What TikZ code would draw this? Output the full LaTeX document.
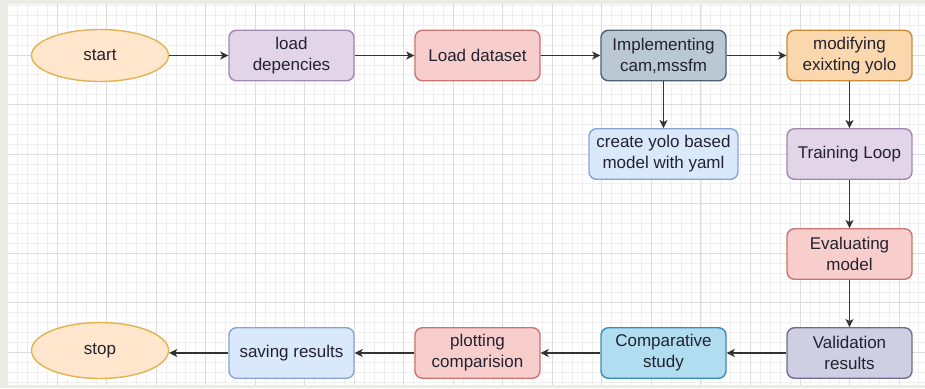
\documentclass[tikz,border=0pt]{standalone}
\usepackage{fontspec}
\setmainfont{Liberation Sans}
\usetikzlibrary{arrows.meta,shapes.geometric}
\definecolor{bordergray}{HTML}{ECECE7}
\definecolor{minorgrid}{HTML}{EFEFEF}
\definecolor{majorgrid}{HTML}{DDDDDD}
\definecolor{txt}{HTML}{222230}
\definecolor{linecol}{HTML}{333333}
\definecolor{ofill}{HTML}{FFE6CC}\definecolor{ostroke}{HTML}{E0B450}
\definecolor{pfill}{HTML}{E1D5E7}\definecolor{pstroke}{HTML}{A287B2}
\definecolor{rfill}{HTML}{F8CECC}\definecolor{rstroke}{HTML}{C8746F}
\definecolor{gfill}{HTML}{BAC8D3}\definecolor{gstroke}{HTML}{4A6072}
\definecolor{afill}{HTML}{FAD7AC}\definecolor{astroke}{HTML}{C98A3A}
\definecolor{bfill}{HTML}{DAE8FC}\definecolor{bstroke}{HTML}{87A5D0}
\definecolor{vfill}{HTML}{D0CEE2}\definecolor{vstroke}{HTML}{6E6A92}
\definecolor{cfill}{HTML}{B1DDF0}\definecolor{cstroke}{HTML}{3A8DB2}
\begin{document}
\begin{tikzpicture}[x=1pt,y=-1pt,
  every node/.style={font=\fontsize{17}{21}\selectfont, text=txt, align=center},
  boxnode/.style={draw, rectangle, rounded corners=7.5pt, line width=1.4pt,
    minimum width=125pt, minimum height=50.5pt, inner sep=2pt},
  ovalnode/.style={draw, ellipse, line width=1.4pt, minimum width=137pt,
    minimum height=52pt, inner sep=0pt, fill=ofill, draw=ostroke},
  flow/.style={draw=linecol, line width=1.4pt,
    -{Stealth[length=8pt,width=8pt,inset=2pt]}}
]
\useasboundingbox (0,0) rectangle (925,388);
\fill[bordergray] (0,0) rectangle (925,388);
\fill[white] (7.5,3.5) rectangle (925,384.5);
% minor grid
\foreach \k in {0,...,92} {
  \pgfmathsetmacro\xx{7.5+\k*9.906}
  \draw[minorgrid, line width=0.8pt] (\xx,3.5) -- (\xx,384.5);
}
\foreach \k in {0,...,38} {
  \pgfmathsetmacro\yy{5.5+\k*9.906}
  \draw[minorgrid, line width=0.8pt] (7.5,\yy) -- (925,\yy);
}
% major grid
\foreach \k in {1,...,18} {
  \pgfmathsetmacro\xx{7.5+\k*49.53}
  \draw[majorgrid, line width=0.9pt] (\xx,3.5) -- (\xx,384.5);
}
\foreach \k in {1,...,7} {
  \pgfmathsetmacro\yy{5.5+\k*49.53}
  \draw[majorgrid, line width=0.9pt] (7.5,\yy) -- (925,\yy);
}
% nodes
\node[ovalnode] (start) at (100,55.5) {start};
\node[boxnode, fill=pfill, draw=pstroke] (loaddep) at (291.5,55.5) {load\\depencies};
\node[boxnode, fill=rfill, draw=rstroke] (dataset) at (477.5,55.5) {Load dataset};
\node[boxnode, fill=gfill, draw=gstroke] (impl) at (663.5,55.5) {Implementing\\cam,mssfm};
\node[boxnode, fill=afill, draw=astroke] (modify) at (849.5,55.5) {modifying\\exixting yolo};
\node[boxnode, fill=bfill, draw=bstroke, minimum width=149pt] (create) at (663.5,154) {create yolo based\\model with yaml};
\node[boxnode, fill=pfill, draw=pstroke] (train) at (849.5,154) {Training Loop};
\node[boxnode, fill=rfill, draw=rstroke] (eval) at (849.5,254) {Evaluating\\model};
\node[boxnode, fill=vfill, draw=vstroke] (valid) at (849.5,353) {Validation\\results};
\node[boxnode, fill=cfill, draw=cstroke] (comp) at (663.5,353) {Comparative\\study};
\node[boxnode, fill=rfill, draw=rstroke] (plot) at (477.5,353) {plotting\\comparision};
\node[boxnode, fill=bfill, draw=bstroke] (save) at (291.5,353) {saving results};
\node[ovalnode, minimum height=56pt] (stop) at (100,350.5) {stop};
% connectors
\draw[flow] (start) -- (loaddep);
\draw[flow] (loaddep) -- (dataset);
\draw[flow] (dataset) -- (impl);
\draw[flow] (impl) -- (modify);
\draw[flow] (impl) -- (create);
\draw[flow] (modify) -- (train);
\draw[flow] (train) -- (eval);
\draw[flow] (eval) -- (valid);
\draw[flow] (valid) -- (comp);
\draw[flow] (comp) -- (plot);
\draw[flow] (plot) -- (save);
\draw[flow] (save.west) -- (stop.east |- save.west);
\end{tikzpicture}
\end{document}
